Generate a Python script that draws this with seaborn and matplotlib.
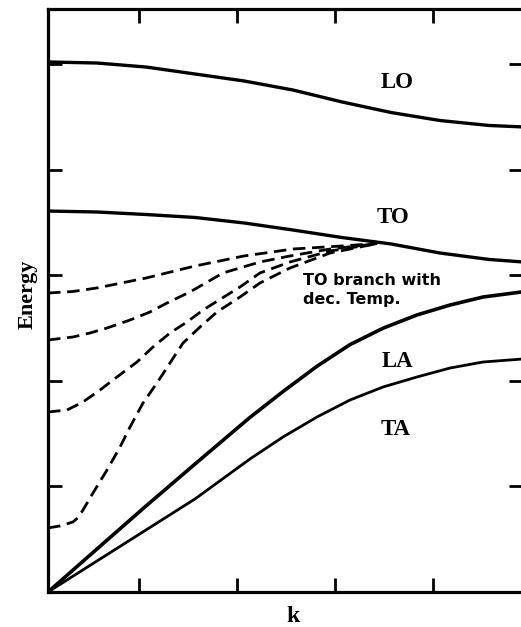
import matplotlib
matplotlib.use("Agg")
import matplotlib.pyplot as plt
import seaborn as sns
import pandas as pd

# ---- data (k in arbitrary units, energy in arbitrary units) ----
k_lo = [0, 0.5, 1.0, 1.5, 2.0, 2.5, 3.0, 3.5, 4.0, 4.5, 4.85]
e_lo = [5.024, 5.014, 4.976, 4.910, 4.844, 4.758, 4.645, 4.545, 4.469, 4.422, 4.408]

k_to = [0, 0.5, 1.0, 1.5, 2.0, 2.5, 3.0, 3.5, 4.0, 4.5, 4.85]
e_to = [3.611, 3.602, 3.578, 3.550, 3.498, 3.431, 3.360, 3.299, 3.213, 3.152, 3.128]

k_ac = [0, 0.5, 1.0, 1.5, 2.061, 2.398, 2.745, 3.082, 3.418, 3.765, 4.102, 4.439, 4.85]
e_la = [0, 0.408, 0.815, 1.213, 1.655, 1.900, 2.140, 2.345, 2.500, 2.626, 2.720, 2.796, 2.846]
e_ta = [0, 0.294, 0.588, 0.882, 1.261, 1.469, 1.659, 1.820, 1.943, 2.038, 2.123, 2.180, 2.209]

# soft TO branch at decreasing temperature (dashed)
k_t1 = [0, 0.25, 0.5, 1.0, 1.5, 2.0, 2.5, 3.0, 3.36]
e_t1 = [2.834, 2.848, 2.882, 2.976, 3.090, 3.185, 3.251, 3.280, 3.303]
k_t2 = [0, 0.255, 0.429, 0.602, 0.837, 1.041, 1.214, 1.449, 1.786, 2.163, 2.469, 2.878, 3.337]
e_t2 = [2.389, 2.417, 2.455, 2.502, 2.578, 2.654, 2.739, 2.844, 3.024, 3.128, 3.185, 3.251, 3.299]
k_t3 = [0, 0.194, 0.357, 0.531, 0.704, 0.908, 1.071, 1.245, 1.418, 1.582, 1.959, 2.163, 2.469, 2.878, 3.337]
e_t3 = [1.706, 1.725, 1.801, 1.915, 2.038, 2.180, 2.322, 2.455, 2.559, 2.673, 2.891, 3.024, 3.128, 3.232, 3.299]
k_t4 = [0, 0.122, 0.255, 0.306, 0.357, 0.459, 0.602, 0.735, 0.837, 0.969, 1.112, 1.245, 1.378,
        1.551, 1.724, 1.959, 2.163, 2.469, 2.878, 3.337]
e_t4 = [0.607, 0.626, 0.664, 0.705, 0.777, 0.938, 1.156, 1.374, 1.564, 1.791, 1.981, 2.171, 2.360,
        2.512, 2.654, 2.796, 2.929, 3.071, 3.213, 3.299]

x_ticks = [0.929, 1.929, 2.929, 3.929]
y_ticks = [1, 2, 3, 4, 5]

# ---- build tables ----
solid = pd.concat([
    pd.DataFrame({"k": k_lo, "E": e_lo, "branch": "LO"}),
    pd.DataFrame({"k": k_to, "E": e_to, "branch": "TO"}),
    pd.DataFrame({"k": k_ac, "E": e_la, "branch": "LA"}),
    pd.DataFrame({"k": k_ac, "E": e_ta, "branch": "TA"}),
], ignore_index=True)
dashed = pd.concat([
    pd.DataFrame({"k": k_t1, "E": e_t1, "branch": "T1"}),
    pd.DataFrame({"k": k_t2, "E": e_t2, "branch": "T2"}),
    pd.DataFrame({"k": k_t3, "E": e_t3, "branch": "T3"}),
    pd.DataFrame({"k": k_t4, "E": e_t4, "branch": "T4"}),
], ignore_index=True)

sns.set_theme(style="white")
plt.rcParams["font.family"] = ["Liberation Serif", "DejaVu Serif"]

fig = plt.figure(figsize=(5.21, 6.27), dpi=100)
ax = fig.add_axes([48 / 521, 35 / 627, 475 / 521, 583 / 627])

widths = {"LO": 2.4, "TO": 2.4, "LA": 2.6, "TA": 2.0}
for name, grp in solid.groupby("branch", sort=False):
    sns.lineplot(data=grp, x="k", y="E", ax=ax, color="black", lw=widths[name],
                 sort=False, estimator=None, legend=False,
                 solid_capstyle="round", solid_joinstyle="round")
for name, grp in dashed.groupby("branch", sort=False):
    sns.lineplot(data=grp, x="k", y="E", ax=ax, color="black", lw=2.0,
                 sort=False, estimator=None, legend=False,
                 linestyle=(0, (4.5, 2.4)))

ax.set_xlim(0, 4.847)
ax.set_ylim(0, 5.526)
ax.set_xticks(x_ticks)
ax.set_yticks(y_ticks)
ax.set_xticklabels([])
ax.set_yticklabels([])
ax.tick_params(axis="both", direction="in", length=10, width=2.0, color="black",
               top=True, bottom=True, left=True, right=True)
for s in ax.spines.values():
    s.set_visible(True)
    s.set_color("black")
    s.set_linewidth(2.3)

lab = dict(fontsize=16.5, fontweight="bold", ha="center", va="baseline", color="black")
ax.text(3.561, 4.777, "LO", **lab)
ax.text(3.520, 3.498, "TO", **lab)
ax.text(3.571, 2.133, "LA", **lab)
ax.text(3.551, 1.488, "TA", **lab)

small = dict(fontsize=11.5, fontweight="bold", ha="left", va="baseline",
             color="black", family=["DejaVu Sans"])
ax.text(2.602, 2.910, "TO branch with", **small)
ax.text(2.602, 2.732, "dec. Temp.", **small)

ax.set_xlabel("k", fontsize=17, fontweight="bold", color="black")
ax.set_ylabel("Energy", fontsize=16, fontweight="bold", color="black")
ax.xaxis.label.set_va("baseline")
ax.yaxis.label.set_va("baseline")
ax.xaxis.set_label_coords((293 - 48) / 475, (592 - 622) / 583)
ax.yaxis.set_label_coords((33 - 48) / 475, (592 - 294) / 583)

fig.savefig("out.png", dpi=100, facecolor="white")
